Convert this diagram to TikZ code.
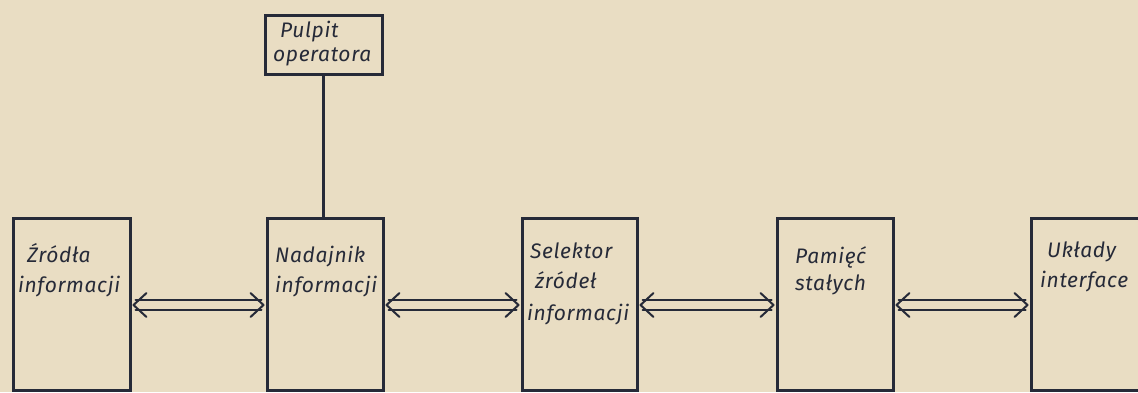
\documentclass[tikz,border=0pt]{standalone}
\usepackage{fontspec}
\newfontfamily\hand{Fira Sans}[LetterSpace=3]
\usetikzlibrary{calc}
\definecolor{paper}{HTML}{E9DDC3}
\definecolor{ink}{HTML}{262A38}
\newcommand\biarrow[2]{%
  \path (#1.east) ++(0,1) coordinate (aL);
  \path (#2.west) ++(0,1) coordinate (aR);
  \draw[conn] ($(aL)+(4,-5)$) -- ($(aR)+(-4,-5)$);
  \draw[conn] ($(aL)+(4,5)$) -- ($(aR)+(-4,5)$);
  \draw[conn] ($(aL)+(15,-12)$) -- ($(aL)+(2,0)$) -- ($(aL)+(15,12)$);
  \draw[conn] ($(aR)+(-15,-12)$) -- ($(aR)+(-2,0)$) -- ($(aR)+(-15,12)$);
}
\begin{document}
\begin{tikzpicture}[x=1pt,y=-1pt,
  blk/.style={draw=ink, line width=3pt, inner sep=0, rectangle},
  conn/.style={draw=ink, line width=2pt, line cap=round, line join=round},
  vline/.style={draw=ink, line width=3pt},
  lbl/.style={anchor=base west, inner sep=0, text=ink, font=\hand\itshape\fontsize{21}{25}\selectfont}]
\fill[paper] (0,0) rectangle (1138,392);
\useasboundingbox (0,0) rectangle (1138,392);
% blocks
\node[blk, minimum width=117pt, minimum height=172pt] (b1) at (71.5,304) {};
\node[blk, minimum width=116pt, minimum height=172pt] (b2) at (325,304) {};
\node[blk, minimum width=115pt, minimum height=172pt] (b3) at (579.5,304) {};
\node[blk, minimum width=116pt, minimum height=172pt] (b4) at (835,304) {};
\node[blk, minimum width=117pt, minimum height=172pt] (b5) at (1089.5,304) {};
\node[blk, minimum width=117pt, minimum height=59pt] (p) at (323.5,44.5) {};
% labels
\node[lbl] (t1a) at (27,262) {Źródła};
\node[lbl] (t1b) at (18,292) {informacji};
\node[lbl] (t2a) at (275,262) {Nadajnik};
\node[lbl] (t2b) at (275,292) {informacji};
\node[lbl] (t3a) at (530,258) {Selektor};
\node[lbl] (t3b) at (535,288) {źródeł};
\node[lbl] (t3c) at (527,320) {informacji};
\node[lbl] (t4a) at (795,263) {Pamięć};
\node[lbl] (t4b) at (795,290) {stałych};
\node[lbl] (t5a) at (1047,257) {Układy};
\node[lbl] (t5b) at (1040,287) {interface};
\node[lbl] (tpa) at (280,37) {Pulpit};
\node[lbl] (tpb) at (273,61) {operatora};
% connectors
\draw[vline] (p.south) -- (p.south |- b2.north);
\biarrow{b1}{b2}
\biarrow{b2}{b3}
\biarrow{b3}{b4}
\biarrow{b4}{b5}
\end{tikzpicture}
\end{document}
